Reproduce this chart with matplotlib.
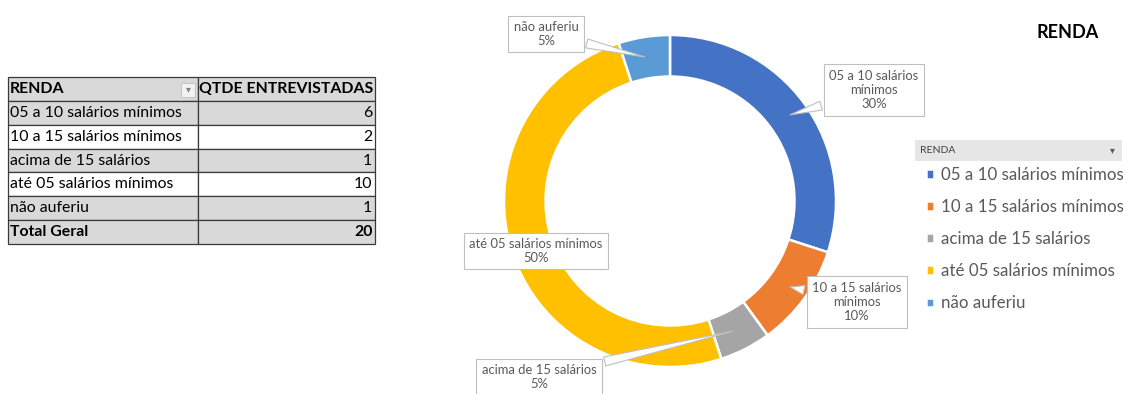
import matplotlib.pyplot as plt
import numpy as np
from matplotlib.patches import Rectangle

plt.rcParams['font.family'] = ['Lato', 'DejaVu Sans']

# data
categorias = ['05 a 10 salários mínimos', '10 a 15 salários mínimos', 'acima de 15 salários',
              'até 05 salários mínimos', 'não auferiu']
entrevistadas = [6, 2, 1, 10, 1]
rotulos = ['05 a 10 salários\nmínimos', '10 a 15 salários\nmínimos', 'acima de 15 salários',
           'até 05 salários mínimos', 'não auferiu']
cores = ['#4472C4', '#ED7D31', '#A5A5A5', '#FFC000', '#5B9BD5']

W, H = 1124, 394
fig = plt.figure(figsize=(W / 100, H / 100), dpi=100)


def fx(px):
    return px / W


def fy(py):
    return 1 - py / H


# ---- table (left) ----
tl, tr, tt, tb = 8, 375, 77, 244
tab_ax = fig.add_axes([fx(tl), fy(tb), fx(tr - tl), (tb - tt) / H])
tab_ax.axis('off')
linhas = [['RENDA', 'QTDE ENTREVISTADAS']]
linhas += [[c, str(v)] for c, v in zip(categorias, entrevistadas)]
linhas += [['Total Geral', str(sum(entrevistadas))]]
tabela = tab_ax.table(cellText=linhas, bbox=[0, 0, 1, 1], colWidths=[190, 177])
tabela.auto_set_font_size(False)
for (r, c), cell in tabela.get_celld().items():
    cell.set_edgecolor('#3a3a3a')
    cell.set_linewidth(0.9)
    cinza = r in (0, 1, 3, 5, 6)
    cell.set_facecolor('#D9D9D9' if cinza else 'white')
    txt = cell.get_text()
    txt.set_fontsize(11.4)
    bold = r in (0, 6)
    txt.set_fontweight('bold' if bold else 'normal')
    if c == 0 or r == 0:
        cell.set_text_props(ha='left')
        cell.PAD = 0.008
    else:
        cell.set_text_props(ha='right')
        cell.PAD = 0.015
# dropdown button in header
fig.patches.append(Rectangle((fx(181), fy(97)), fx(14), 14 / H, transform=fig.transFigure,
                             fc='#F2F2F2', ec='#BFBFBF', lw=0.6))
fig.text(fx(188), fy(89.5), '▾', ha='center', va='center', fontsize=7, color='#808080',
         family='DejaVu Sans')

# ---- donut ----
cx, cy, R = 670, 201, 166
ax = fig.add_axes([fx(cx - R), fy(cy + R), 2 * R / W, 2 * R / H])
wedges, _ = ax.pie(entrevistadas, colors=cores, startangle=90, counterclock=False,
                   radius=1, wedgeprops=dict(width=0.25, edgecolor='white', linewidth=1.8))
ax.set_xlim(-1, 1)
ax.set_ylim(-1, 1)
ax.set_aspect('equal')
ax.axis('off')

total = sum(entrevistadas)
pos_rotulo = [(874, 90), (857, 302), (539, 377), (536, 251), (546, 34)]
for w, lab, v, (px, py) in zip(wedges, rotulos, entrevistadas, pos_rotulo):
    ang = np.deg2rad((w.theta1 + w.theta2) / 2)
    xp, yp = 0.875 * np.cos(ang), 0.875 * np.sin(ang)
    txt = f'{lab}\n{v / total * 100:.0f}%'
    seta = None
    if lab != 'até 05 salários mínimos':
        seta = dict(arrowstyle='wedge,tail_width=0.7,shrink_factor=0.5', fc='white',
                    ec='#BFBFBF', lw=0.8)
    ax.annotate(txt, xy=(xp, yp), xycoords='data', xytext=(fx(px), fy(py)),
                textcoords='figure fraction', ha='center', va='center', fontsize=9.4,
                color='#595959', linespacing=1.25, annotation_clip=False,
                bbox=dict(boxstyle='square,pad=0.4', fc='white', ec='#BFBFBF', lw=0.8),
                arrowprops=seta)

fig.text(fx(1068), fy(33), 'RENDA', ha='center', va='center', fontsize=13,
         fontweight='bold', color='black')

# ---- legend ----
fig.patches.append(Rectangle((fx(915), fy(161)), fx(207), 21 / H, transform=fig.transFigure,
                             fc='#E7E6E6', ec='none'))
fig.text(fx(920), fy(150.5), 'RENDA', ha='left', va='center', fontsize=7.5, color='#404040')
fig.text(fx(1112), fy(150.5), '▾', ha='center', va='center', fontsize=7, color='#595959',
         family='DejaVu Sans')
leg = fig.legend(wedges, categorias, loc='upper left', bbox_to_anchor=(fx(926), fy(167)),
                 frameon=False, fontsize=12.2, handlelength=0.5, handleheight=0.5,
                 handletextpad=0.38, labelspacing=0.95, borderaxespad=0, borderpad=0)
for t in leg.get_texts():
    t.set_color('#595959')

fig.savefig('out.png', dpi=100)
